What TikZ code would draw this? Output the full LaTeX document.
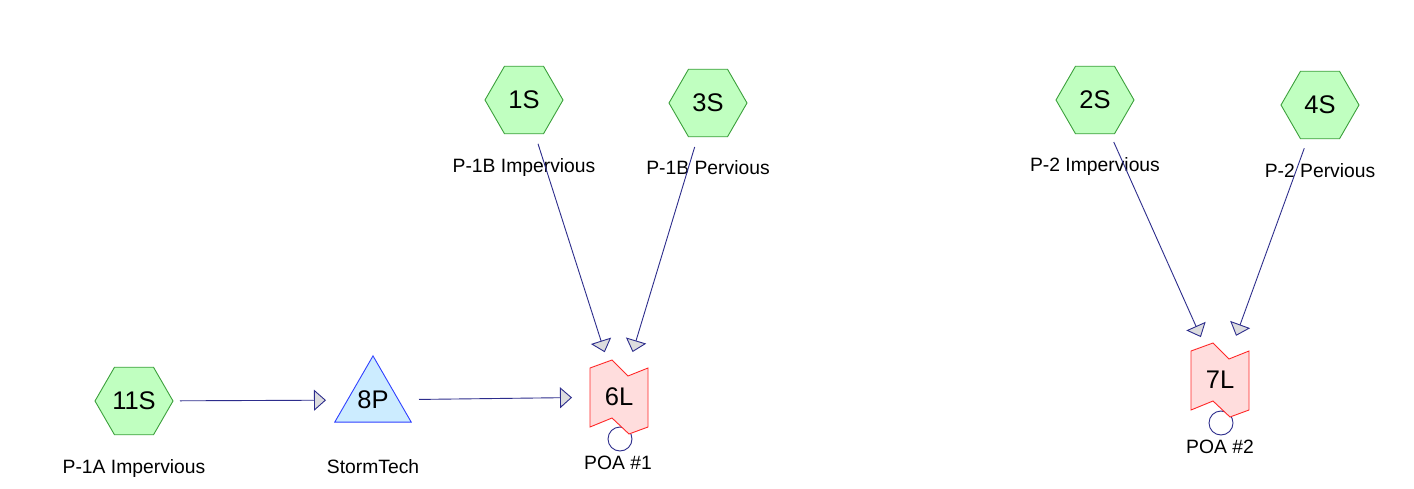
\documentclass[tikz,border=0pt]{standalone}
\usepackage{fontspec}
\setmainfont{Liberation Sans}
\usetikzlibrary{shapes.geometric,arrows.meta,calc}
\definecolor{navy}{RGB}{45,45,140}
\definecolor{arrowgray}{RGB}{220,220,222}
\definecolor{hexfill}{RGB}{192,255,192}
\definecolor{hexdraw}{RGB}{60,160,60}
\definecolor{pondfill}{RGB}{204,236,255}
\definecolor{ponddraw}{RGB}{48,64,255}
\definecolor{linkfill}{RGB}{255,221,221}
\definecolor{linkdraw}{RGB}{255,40,40}
\begin{document}
\begin{tikzpicture}[x=1pt,y=-1pt,
  bigtxt/.style={font=\fontsize{25.5}{30}\selectfont},
  hexa/.style={regular polygon, regular polygon sides=6, minimum size=78pt, inner sep=0pt,
    draw=hexdraw, fill=hexfill, line width=0.9pt, bigtxt},
  pond/.style={regular polygon, regular polygon sides=3, minimum size=88pt, inner sep=0pt,
    draw=ponddraw, fill=pondfill, line width=0.9pt, bigtxt},
  linkshape/.style={draw=linkdraw, fill=linkfill, line width=0.9pt, line join=miter},
  nodetxt/.style={inner sep=0pt, bigtxt},
  outlet/.style={circle, minimum size=24pt, inner sep=0pt, draw=navy, fill=white, line width=0.9pt},
  lbl/.style={font=\fontsize{19.3}{23}\selectfont, inner sep=0pt, text height=14pt, text depth=0pt},
  flow/.style={draw=navy, line width=0.9pt, shorten <=46pt, shorten >=47pt,
    -{Triangle[length=12pt,width=21pt,fill=arrowgray]}}
]
\path[use as bounding box, fill=white] (0,0) rectangle (1414,489);

% subcatchments
\node[hexa] (n1) at (524,100) {1S};
\node[hexa] (n3) at (708,103) {3S};
\node[hexa] (n2) at (1095,100) {2S};
\node[hexa] (n4) at (1320,105) {4S};
\node[hexa] (n11) at (134,401) {11S};
% pond
\node[pond] (n8) at (373,400) {8P};

% links
\coordinate (c6) at (619,397);
\coordinate (c7) at (1220,380);
\node[outlet] (o6) at ($(c6)+(1,42)$) {};
\node[outlet] (o7) at ($(c7)+(1,43)$) {};
\foreach \c in {c6,c7}{
  \draw[linkshape, shift={(\c)}] (-29,-29) -- (-7,-37) -- (9,-21) -- (29,-29)
     -- (29,30) -- (10,37) -- (-7,21) -- (-29,30) -- cycle;
}
\node[nodetxt] (n6) at (c6) {6L};
\node[nodetxt] (n7) at (c7) {7L};

% labels
\node[lbl] (l1) at ($(n1)+(0,66)$) {P-1B Impervious};
\node[lbl] (l3) at ($(n3)+(0,65)$) {P-1B Pervious};
\node[lbl] (l2) at ($(n2)+(0,65)$) {P-2 Impervious};
\node[lbl] (l4) at ($(n4)+(0,66)$) {P-2 Pervious};
\node[lbl] (l11) at ($(n11)+(0,65)$) {P-1A Impervious};
\node[lbl] (l8) at ($(n8)+(0,66)$) {StormTech};
\node[lbl] (l6) at ($(c6)+(-1,65)$) {POA \#1};
\node[lbl] (l7) at ($(c7)+(0,66)$) {POA \#2};

% connectors
\draw[flow] (n1.center) -- (n6.center);
\draw[flow] (n3.center) -- (n6.center);
\draw[flow] (n2.center) -- (n7.center);
\draw[flow] (n4.center) -- (n7.center);
\draw[flow] (n11.center) -- (n8.center);
\draw[flow] (n8.center) -- (n6.center);
\end{tikzpicture}
\end{document}
